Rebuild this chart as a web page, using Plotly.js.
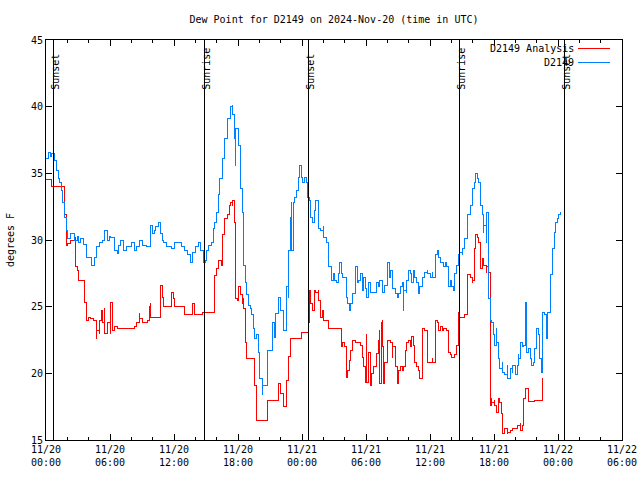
<!DOCTYPE html>
<html>
<head>
<meta charset="utf-8">
<script src="https://cdn.plot.ly/plotly-3.0.1.min.js"></script>
<style>html,body{margin:0;padding:0;background:#fff;}#chart{width:640px;height:480px;}
#chart svg path{shape-rendering:crispEdges;}</style>
</head>
<body>
<div id="chart"></div>
<script>
// Time in hours since 2024-11-20 00:00 UTC
const stationHours = [0,0.19,0.38,0.56,0.75,0.94,1.13,1.22,1.41,1.5,1.69,1.88,2.06,2.34,2.63,2.91,3.09,3.28,3.56,3.75,3.84,4.13,4.31,4.5,4.78,5.06,5.25,5.53,5.72,5.91,6.09,6.38,6.66,6.84,7.03,7.31,7.59,7.97,8.25,8.53,8.72,9.0,9.38,9.66,9.75,9.94,10.13,10.31,10.5,10.69,10.88,11.06,11.34,11.72,12.0,12.28,12.66,12.94,13.22,13.5,13.69,14.06,14.34,14.53,14.72,14.91,15.09,15.28,15.56,15.66,15.84,16.03,16.13,16.31,16.5,16.59,16.78,16.97,17.06,17.25,17.44,17.53,17.63,17.72,17.81,18.0,18.19,18.28,18.38,18.47,18.52,18.66,18.84,18.94,19.13,19.31,19.41,19.59,19.78,19.88,20.06,20.25,20.34,20.53,20.72,20.81,21.09,21.28,21.38,21.56,21.75,21.84,22.03,22.22,22.31,22.5,22.69,22.78,22.88,22.97,23.06,23.16,23.25,23.44,23.63,23.72,23.91,24.09,24.19,24.38,24.56,24.66,24.84,25.03,25.13,25.31,25.5,25.59,25.78,25.97,26.06,26.25,26.44,26.53,26.72,26.91,27.0,27.19,27.38,27.47,27.66,27.84,28.13,28.31,28.41,28.59,28.78,28.97,29.06,29.16,29.34,29.53,29.63,29.72,29.91,30.09,30.19,30.38,30.94,31.03,31.13,31.31,31.5,31.59,31.78,31.97,32.06,32.16,32.34,32.44,32.53,32.72,32.91,33.0,33.19,33.38,33.47,33.56,33.75,33.84,34.03,34.13,34.31,34.41,34.59,34.78,34.88,35.06,35.25,35.34,35.53,35.72,35.81,36.0,36.19,36.28,36.47,36.56,36.66,36.75,36.94,37.22,37.41,37.59,37.69,37.78,37.88,38.06,38.16,38.34,38.53,38.63,38.81,39.0,39.09,39.28,39.47,39.56,39.75,39.94,40.03,40.13,40.31,40.41,40.5,40.69,40.78,40.88,40.97,41.06,41.25,41.34,41.44,41.48,41.53,41.63,41.81,41.91,42.0,42.19,42.28,42.38,42.56,42.75,42.84,43.03,43.22,43.31,43.5,43.69,43.78,43.97,44.16,44.25,44.34,44.53,44.63,44.72,44.91,45.0,45.09,45.19,45.38,45.56,45.66,45.84,46.03,46.13,46.31,46.41,46.5,46.59,46.69,46.88,46.97,47.06,47.25,47.34,47.44,47.63,47.72,47.91,48.09,48.28];
const stationDew = [36.15,36.6,36.3,36.5,36.0,35.25,34.65,34.3,33.75,32.85,31.7,30.75,30.15,30.5,30.0,30.3,29.85,30.15,29.7,29.5,28.7,28.7,28.1,28.7,29.5,29.8,30.0,30.75,30.0,30.3,30.2,29.25,29.0,29.6,30.0,29.25,29.5,29.8,29.25,29.55,30.0,29.6,29.5,29.5,31.1,30.5,30.75,31.0,31.3,30.5,30.0,29.8,29.5,29.4,29.8,29.8,29.5,29.25,28.9,28.3,29.1,29.5,29.85,29.25,28.3,28.5,29.25,29.6,29.85,30.9,31.35,32.1,33.4,34.65,35.1,36.15,37.65,38.4,39.15,40.0,40.1,39.4,37.65,35.6,38.4,37.1,35.85,33.9,32.1,30.4,28.1,26.85,25.9,25.1,24.9,24.4,23.4,22.65,22.9,21.6,19.65,18.4,19.1,19.1,20.6,21.75,21.75,23.8,22.7,24.5,25.5,25.7,24.75,23.8,23.25,26.5,25.7,29.25,31.7,32.8,29.25,32.8,33.2,33.75,34.7,35.6,34.7,34.3,34.7,34.3,33.2,33.0,31.7,31.35,32.25,33.0,32.25,30.9,30.75,31.0,30.2,29.8,29.25,28.0,27.0,27.5,27.0,26.8,27.5,28.3,27.5,27.2,25.7,25.25,24.75,25.25,26.0,27.5,28.0,26.8,27.0,27.5,26.25,27.2,26.4,25.7,26.8,26.1,26.1,26.85,26.5,27.0,26.8,26.1,26.6,26.85,28.3,27.2,27.75,26.85,26.4,26.0,25.7,26.0,26.5,26.8,24.75,26.25,26.1,27.0,27.75,27.5,26.8,27.75,27.2,26.8,26.0,26.5,27.0,27.2,27.6,27.75,27.5,27.2,27.6,27.2,28.3,28.9,29.25,28.7,28.3,28.0,28.3,28.0,27.2,26.5,27.0,26.5,26.25,27.5,28.1,28.9,29.1,28.9,29.4,30.15,30.9,31.9,32.6,33.15,33.9,34.35,35.0,34.65,34.35,33.6,32.6,31.9,30.6,31.1,29.85,32.1,29.4,27.6,25.65,24.0,23.85,22.9,22.1,23.4,22.35,21.15,20.4,20.85,20.1,19.9,20.6,19.65,20.4,20.1,20.6,19.9,20.6,21.4,21.15,22.35,22.0,22.1,25.35,23.1,21.6,21.9,21.15,20.6,20.85,21.9,23.4,22.9,21.15,20.1,21.6,24.6,24.4,22.65,23.4,24.6,26.1,27.4,29.4,30.6,31.35,31.65,31.9,32.1];

const analysisHours = [0,0.56,1.69,1.88,2.06,2.25,2.72,2.77,2.91,3.0,3.56,3.61,3.84,3.94,4.13,4.41,4.69,4.78,4.97,5.06,5.16,5.25,5.44,5.53,5.72,6.0,6.09,6.19,6.38,6.66,7.03,7.59,8.25,8.53,8.72,8.81,9.0,9.47,9.66,9.75,9.84,10.69,10.78,10.88,10.97,11.72,11.81,11.91,12.0,12.75,12.94,13.59,13.69,13.88,14.53,14.63,15.66,15.75,15.84,16.03,16.13,16.31,16.41,16.5,16.59,16.78,16.97,17.16,17.34,17.44,17.53,17.63,17.72,17.81,17.91,18.09,18.19,18.38,18.47,18.56,18.66,18.75,19.41,19.59,19.78,20.72,20.81,21.66,21.75,21.94,22.03,22.22,22.5,22.59,22.78,22.88,23.72,23.91,24.56,24.61,24.66,24.84,25.03,25.13,25.31,25.5,25.59,25.78,25.88,26.06,26.44,26.53,27.47,27.66,27.75,27.94,28.13,28.31,28.41,28.59,28.69,28.97,29.44,29.63,29.72,29.91,30.0,30.09,30.19,30.38,30.56,30.66,30.84,31.03,31.13,31.22,31.31,31.41,31.5,31.59,31.64,31.78,31.97,32.25,32.44,32.53,32.72,32.91,33.0,33.19,33.38,33.47,33.66,33.84,33.94,34.13,34.22,34.31,34.41,34.59,34.78,34.88,35.06,35.25,35.34,35.53,35.72,36.0,36.19,36.28,36.47,36.66,36.75,36.94,37.13,37.31,37.59,37.69,37.88,38.06,38.34,38.53,38.63,38.72,38.81,39.28,39.47,39.56,39.75,39.94,40.03,40.13,40.31,40.41,40.5,40.69,40.78,40.88,41.06,41.25,41.34,41.44,41.53,41.63,41.67,41.72,41.81,42.0,42.09,42.28,42.38,42.56,42.66,42.75,42.84,43.03,43.22,43.31,43.5,43.69,44.16,44.44,44.53,44.63,44.72,44.91,45.19,45.23,45.84,46.5,46.59];
const analysisDew = [34.55,34.05,31.9,29.6,29.75,30.0,30.2,28.0,27.75,27.0,27.0,25.3,24.0,24.2,24.15,24.0,22.65,23.25,23.0,24.0,24.75,23.85,24.9,23.0,23.85,23.0,25.35,23.25,23.5,23.35,23.4,23.4,23.5,23.8,24.5,24.15,23.8,24.0,25.0,25.25,24.2,24.2,26.6,25.7,25.0,25.0,26.1,25.65,25.0,25.0,24.4,24.4,25.25,24.4,24.4,24.6,24.6,27.0,27.35,27.9,28.5,28.5,28.1,29.4,30.4,31.65,31.9,32.6,32.85,32.6,33.0,31.35,27.2,25.65,25.5,26.5,25.9,25.25,25.65,24.9,22.3,21.15,21.15,19.1,16.5,16.5,18.0,18.0,19.25,18.75,18.5,17.5,17.5,19.5,21.25,22.65,22.65,23.1,23.1,23.85,26.25,25.25,24.75,26.25,26.1,26.25,25.5,24.2,24.75,24.0,24.0,23.4,23.4,22.0,22.35,22.0,19.7,20.25,21.0,21.75,22.5,22.3,22.1,21.2,20.5,19.35,22.9,19.35,21.6,19.1,20.0,20.5,20.5,21.5,22.5,23.25,19.25,23.85,24.0,22.0,19.25,20.8,22.5,22.3,21.2,22.0,20.5,19.25,20.25,20.5,20.25,20.5,21.75,22.3,22.5,22.0,22.5,22.75,22.1,20.85,20.5,20.25,19.65,22.75,23.4,23.25,20.8,20.8,21.15,20.8,24.0,23.85,23.25,23.5,23.25,23.4,23.25,21.6,21.4,21.2,21.4,22.1,24.6,23.85,24.2,24.4,25.25,27.4,27.2,26.85,27.0,29.4,30.4,30.2,29.85,29.6,27.9,28.65,28.1,27.6,28.0,27.6,27.6,22.9,17.6,18.15,17.8,18.0,17.6,17.1,18.15,17.85,17.0,16.1,15.5,15.9,15.5,15.6,15.75,15.9,16.1,16.25,15.75,16.1,18.15,18.9,18.9,17.9,18.0,18.0,19.65];

const eventHours = [0.68, 14.84, 24.59, 38.75, 48.59];
const eventLabels = ['Sunset', 'Sunrise', 'Sunset', 'Sunrise', 'Sunset'];

const tickHours = [0, 6, 12, 18, 24, 30, 36, 42, 48, 54];
const tickLabels = ['11/20<br>00:00','11/20<br>06:00','11/20<br>12:00','11/20<br>18:00','11/21<br>00:00','11/21<br>06:00','11/21<br>12:00','11/21<br>18:00','11/22<br>00:00','11/22<br>06:00'];
const yTicks = [15, 20, 25, 30, 35, 40, 45];

const seriesNames = ['D2149 Analysis', 'D2149'];
const seriesColors = ['#ff0000', '#0080ff'];

const FONT = {family: 'DejaVu Sans Mono, Liberation Mono, monospace', size: 10, color: '#000'};

const traces = [
  {x: analysisHours, y: analysisDew, name: seriesNames[0], type: 'scatter', mode: 'lines',
   line: {color: seriesColors[0], width: 1, shape: 'hv'}, showlegend: false, hoverinfo: 'skip'},
  {x: stationHours, y: stationDew, name: seriesNames[1], type: 'scatter', mode: 'lines',
   line: {color: seriesColors[1], width: 1, shape: 'hv'}, showlegend: false, hoverinfo: 'skip'}
];

const shapes = eventHours.map(h => ({
  type: 'line', xref: 'x', yref: 'paper', x0: h, x1: h, y0: 0, y1: 1,
  line: {color: '#000', width: 1}
}));
const annotations = eventHours.map((h, i) => ({
  x: h, xref: 'x', y: 0.87, yref: 'paper', text: eventLabels[i], textangle: -90,
  showarrow: false, xanchor: 'left', yanchor: 'bottom', xshift: -6, yshift: 0, font: FONT
}));
// legend (gnuplot style: text then sample line)
const legendY = [0.98, 0.945];
seriesNames.forEach((n, i) => {
  annotations.push({x: 0.9167, xref: 'paper', y: legendY[i], yref: 'paper', text: n,
    showarrow: false, xanchor: 'right', yanchor: 'middle', xshift: 2, font: FONT});
  shapes.push({type: 'line', xref: 'paper', yref: 'paper', x0: 0.9236, x1: 0.9792,
    y0: legendY[i], y1: legendY[i], line: {color: seriesColors[i], width: 1}});
});

const layout = {
  width: 640, height: 480,
  margin: {l: 46, r: 18, t: 40, b: 40},
  paper_bgcolor: '#fff', plot_bgcolor: '#fff',
  font: FONT,
  title: {text: 'Dew Point for D2149 on 2024-Nov-20 (time in UTC)', font: FONT,
          xref: 'paper', x: 0.5, xanchor: 'center', yref: 'container', y: 0.96, yanchor: 'middle'},
  xaxis: {range: [0, 54], tickvals: tickHours, ticktext: tickLabels, ticks: 'inside', ticklen: 6,
          tickcolor: '#000', showline: true, linecolor: '#000', linewidth: 1, mirror: 'allticks',
          showgrid: false, zeroline: false, tickfont: FONT,
          minor: {dtick: 2, tick0: 0, ticks: 'inside', ticklen: 3, tickcolor: '#000', showgrid: false}},
  yaxis: {range: [15, 45], tickvals: yTicks, ticks: 'inside', ticklen: 6, tickcolor: '#000',
          showline: true, linecolor: '#000', linewidth: 1, mirror: 'allticks', showgrid: false,
          zeroline: false, tickfont: FONT,
          title: {text: 'degrees F', font: FONT, standoff: 14}},
  shapes: shapes,
  annotations: annotations,
  showlegend: false
};

Plotly.newPlot('chart', traces, layout, {displayModeBar: false, staticPlot: true});
</script>
</body>
</html>
